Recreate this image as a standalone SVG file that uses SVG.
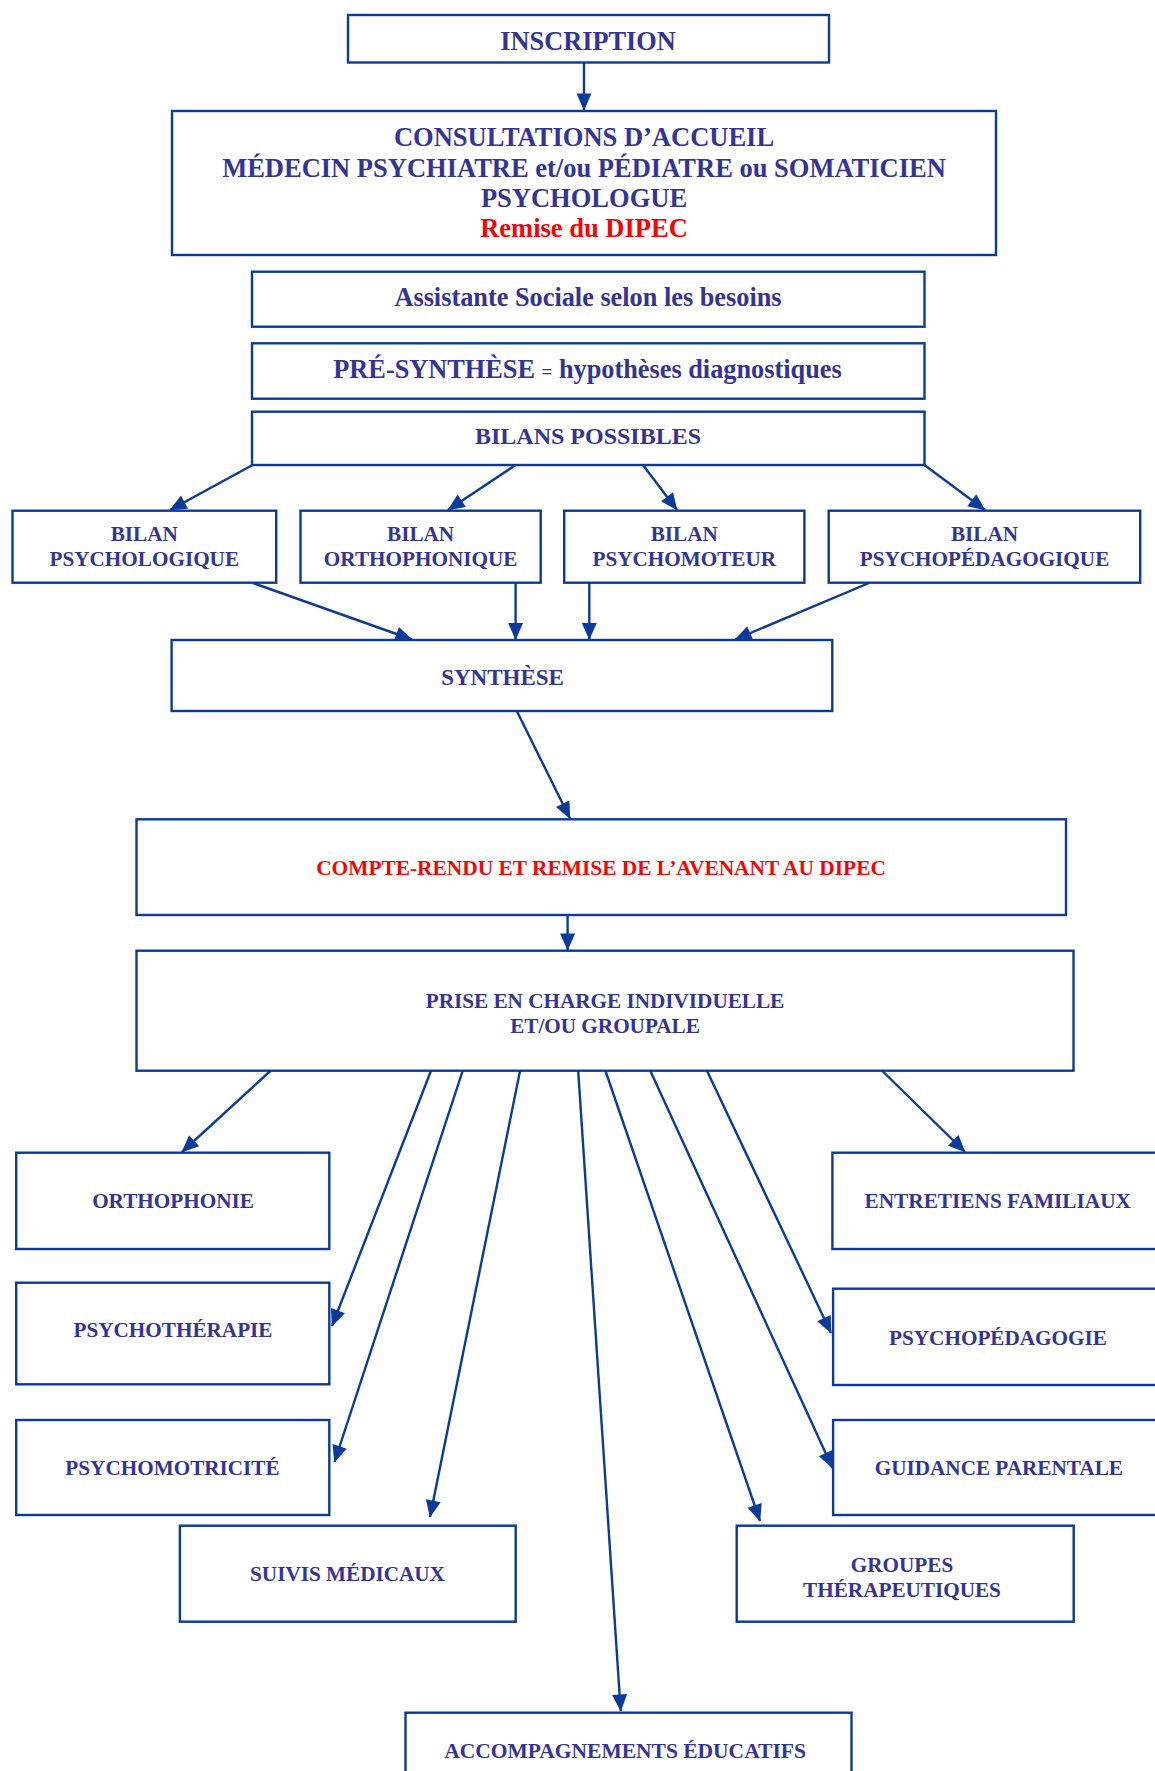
<svg xmlns="http://www.w3.org/2000/svg" width="1155" height="1771" viewBox="0 0 1155 1771">
<style>
  .box { fill: #ffffff; stroke: #0a3a9c; stroke-width: 2.4; }
  .t { font-family: "Liberation Serif", "Times New Roman", serif; font-weight: bold; fill: #333399; text-anchor: middle; }
  .red { fill: #ff0000; }
  .conn line { stroke: #0a3a9c; stroke-width: 2.4; marker-end: url(#ah); }
</style>
<defs>
  <marker id="ah" markerUnits="userSpaceOnUse" markerWidth="18" markerHeight="16" refX="16.5" refY="7.5" orient="auto" overflow="visible">
    <path d="M0,0 L17,7.5 L0,15 z" fill="#0a3a9c"/>
  </marker>
</defs>
<rect width="1155" height="1771" fill="#ffffff"/>

<g id="connectors" class="conn">
  <line x1="584" y1="62.5" x2="584" y2="110"/>
  <line x1="252.6" y1="465" x2="170" y2="510"/>
  <line x1="515.6" y1="465" x2="448" y2="510"/>
  <line x1="643" y1="465" x2="677" y2="510"/>
  <line x1="924.4" y1="465" x2="985" y2="510"/>
  <line x1="253" y1="583" x2="412" y2="639.5"/>
  <line x1="515.6" y1="583" x2="515.6" y2="639.5"/>
  <line x1="589.3" y1="583" x2="589.3" y2="639.5"/>
  <line x1="869" y1="583" x2="735" y2="639.5"/>
  <line x1="516.8" y1="711" x2="570" y2="818.5"/>
  <line x1="567.6" y1="915" x2="567.6" y2="950"/>
  <line x1="270.3" y1="1071" x2="182" y2="1152"/>
  <line x1="430.9" y1="1071" x2="332" y2="1326"/>
  <line x1="462.6" y1="1071" x2="334.5" y2="1462"/>
  <line x1="520" y1="1071" x2="430" y2="1517"/>
  <line x1="578.2" y1="1071" x2="620.7" y2="1711"/>
  <line x1="605.5" y1="1071" x2="760" y2="1521"/>
  <line x1="650.4" y1="1071" x2="832.5" y2="1468"/>
  <line x1="707.1" y1="1071" x2="831" y2="1333"/>
  <line x1="882.4" y1="1071" x2="965" y2="1152"/>
</g>

<g id="inscription">
  <rect class="box" x="348" y="15" width="481" height="47.5"/>
  <text class="t" x="588" y="50" font-size="26.3">INSCRIPTION</text>
</g>
<g id="consultations">
  <rect class="box" x="172" y="111" width="824" height="144"/>
  <text class="t" x="584" y="146" font-size="26.5">CONSULTATIONS D’ACCUEIL</text>
  <text class="t" x="584" y="176.7" font-size="26.5">MÉDECIN PSYCHIATRE et/ou PÉDIATRE ou SOMATICIEN</text>
  <text class="t" x="584" y="206.7" font-size="26.5">PSYCHOLOGUE</text>
  <text class="t red" x="584" y="237" font-size="26.5">Remise du DIPEC</text>
</g>
<g id="assistante">
  <rect class="box" x="252" y="271.7" width="672.5" height="55"/>
  <text class="t" x="588" y="306" font-size="26.3">Assistante Sociale selon les besoins</text>
</g>
<g id="presynthese">
  <rect class="box" x="252" y="343.3" width="672.5" height="55.4"/>
  <text class="t" x="587.5" y="378.3" font-size="26.3">PRÉ-SYNTHÈSE <tspan font-size="19">=</tspan> hypothèses diagnostiques</text>
</g>
<g id="bilans-possibles">
  <rect class="box" x="252" y="411.7" width="672.5" height="53.3"/>
  <text class="t" x="588" y="444.3" font-size="24">BILANS POSSIBLES</text>
</g>
<g id="bilan-psychologique">
  <rect class="box" x="12.5" y="510.7" width="263.7" height="72"/>
  <text class="t" x="144.3" y="540.7" font-size="21.2">BILAN</text>
  <text class="t" x="144.3" y="565.7" font-size="21.2">PSYCHOLOGIQUE</text>
</g>
<g id="bilan-orthophonique">
  <rect class="box" x="300.5" y="510.7" width="240.2" height="72"/>
  <text class="t" x="420.6" y="540.7" font-size="21.2">BILAN</text>
  <text class="t" x="420.6" y="565.7" font-size="21.2">ORTHOPHONIQUE</text>
</g>
<g id="bilan-psychomoteur">
  <rect class="box" x="564.2" y="510.7" width="240.2" height="72"/>
  <text class="t" x="684.3" y="540.7" font-size="21.2">BILAN</text>
  <text class="t" x="684.3" y="565.7" font-size="21.2">PSYCHOMOTEUR</text>
</g>
<g id="bilan-psychopedagogique">
  <rect class="box" x="828.7" y="510.7" width="311.5" height="72"/>
  <text class="t" x="984.5" y="540.7" font-size="21.2">BILAN</text>
  <text class="t" x="984.5" y="565.7" font-size="21.2">PSYCHOPÉDAGOGIQUE</text>
</g>
<g id="synthese">
  <rect class="box" x="171.6" y="640" width="660.7" height="71"/>
  <text class="t" x="502.5" y="685.3" font-size="23">SYNTHÈSE</text>
</g>
<g id="compte-rendu">
  <rect class="box" x="136.5" y="819.3" width="929.5" height="95.7"/>
  <text class="t red" x="601" y="875" font-size="21.4">COMPTE-RENDU ET REMISE DE L’AVENANT AU DIPEC</text>
</g>
<g id="prise-en-charge">
  <rect class="box" x="136.5" y="950.7" width="937" height="120"/>
  <text class="t" x="605" y="1008" font-size="21.2">PRISE EN CHARGE INDIVIDUELLE</text>
  <text class="t" x="605" y="1033.3" font-size="21.2">ET/OU GROUPALE</text>
</g>
<g id="orthophonie">
  <rect class="box" x="16.2" y="1152.7" width="313.1" height="96.3"/>
  <text class="t" x="173" y="1208.3" font-size="21.2">ORTHOPHONIE</text>
</g>
<g id="psychotherapie">
  <rect class="box" x="16.2" y="1282.7" width="313.1" height="101.6"/>
  <text class="t" x="173" y="1337.3" font-size="21.2">PSYCHOTHÉRAPIE</text>
</g>
<g id="psychomotricite">
  <rect class="box" x="16.2" y="1420" width="313.1" height="95"/>
  <text class="t" x="172.5" y="1475" font-size="21.2">PSYCHOMOTRICITÉ</text>
</g>
<g id="entretiens-familiaux">
  <rect class="box" x="832.4" y="1152.7" width="330.6" height="96.3"/>
  <text class="t" x="997.7" y="1208.3" font-size="21.3">ENTRETIENS FAMILIAUX</text>
</g>
<g id="psychopedagogie">
  <rect class="box" x="833.1" y="1288.7" width="330" height="96.3"/>
  <text class="t" x="998" y="1345" font-size="21.2">PSYCHOPÉDAGOGIE</text>
</g>
<g id="guidance-parentale">
  <rect class="box" x="833.1" y="1420" width="330" height="95"/>
  <text class="t" x="998.8" y="1475" font-size="21.2">GUIDANCE PARENTALE</text>
</g>
<g id="suivis-medicaux">
  <rect class="box" x="179.9" y="1525.7" width="335.8" height="96"/>
  <text class="t" x="347.5" y="1580.7" font-size="21.2">SUIVIS MÉDICAUX</text>
</g>
<g id="groupes-therapeutiques">
  <rect class="box" x="736.7" y="1525.7" width="337" height="96"/>
  <text class="t" x="902" y="1572.3" font-size="21.2">GROUPES</text>
  <text class="t" x="902" y="1596.7" font-size="21.2">THÉRAPEUTIQUES</text>
</g>
<g id="accompagnements-educatifs">
  <rect class="box" x="405.5" y="1712.7" width="446" height="80"/>
  <text class="t" x="625" y="1758.3" font-size="21.5">ACCOMPAGNEMENTS ÉDUCATIFS</text>
</g>
</svg>
